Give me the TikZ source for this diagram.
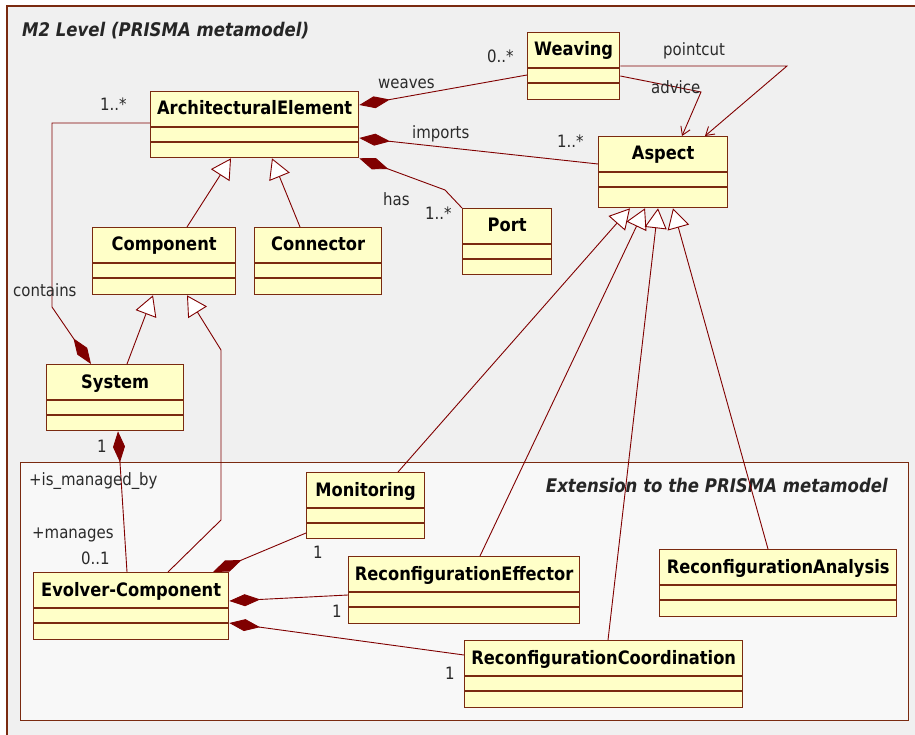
\documentclass[tikz,border=0pt]{standalone}
\usepackage{fontspec}
\setmainfont[FakeStretch=0.88]{DejaVu Sans}
\usetikzlibrary{arrows.meta}

\definecolor{umlred}{HTML}{800000}
\definecolor{boxedge}{HTML}{7A2A10}
\definecolor{boxfill}{HTML}{FFFFC8}
\definecolor{outerbg}{HTML}{F0F0F0}
\definecolor{innerbg}{HTML}{F8F8F8}
\definecolor{lbltext}{HTML}{2A2A2A}

\tikzset{
  classbox/.style={rectangle, draw=boxedge, fill=boxfill, line width=1.3pt, inner sep=0pt},
  classrule/.style={draw=boxedge, line width=1.3pt},
  classname/.style={font=\fontsize{18.5pt}{22pt}\selectfont\bfseries, anchor=base, inner sep=0pt, text=black},
  lbl/.style={font=\fontsize{17pt}{20pt}\selectfont, anchor=base west, inner sep=0pt, text=lbltext},
  frametitle/.style={font=\fontsize{18.8pt}{22pt}\selectfont\bfseries\itshape, anchor=base west, inner sep=0pt, text=black!85},
  assoc/.style={draw=umlred, line width=0.9pt},
  compo/.style={assoc, -{Diamond[length=31pt,width=12pt,fill=umlred]}},
  gen/.style={assoc, -{Triangle[length=20pt,width=22pt,fill=white]}},
  nav/.style={assoc, -{Straight Barb[length=8pt,width=10pt]}},
}

% UML class: name, left x, top y, width, height, title
\newcommand{\umlclass}[6]{%
  \node[classbox, minimum width=#4pt, minimum height=#5pt, anchor=north west] (#1) at (#2,#3) {};
  \node[classname] (#1-name) at ([yshift=-24pt]#1.north) {#6};
  \draw[classrule] ([yshift=-36pt]#1.north west) -- ([yshift=-36pt]#1.north east);
  \draw[classrule] ([yshift=-51pt]#1.north west) -- ([yshift=-51pt]#1.north east);
}

\begin{document}
\begin{tikzpicture}[x=1pt,y=-1pt]
\useasboundingbox (0,0) rectangle (915,735);
\fill[white] (0,0) rectangle (915,735);

% M2 package frame
\fill[outerbg] (7,6) rectangle (915,735);
\draw[boxedge, line width=1.2pt] (7,735) -- (7,6) -- (915,6);
\node[frametitle] (m2title) at (22,37) {M2 Level (PRISMA metamodel)};

% extension package frame
\node[draw=boxedge, fill=innerbg, line width=1.2pt, minimum width=888pt, minimum height=258pt,
      anchor=north west, inner sep=0pt] (extpkg) at (20,462) {};
\node[frametitle, anchor=base east] (exttitle) at (888,492) {Extension to the PRISMA metamodel};

% classes
\umlclass{ae}{150}{91}{208}{66}{ArchitecturalElement}
\umlclass{weaving}{527}{32}{92}{67}{Weaving}
\umlclass{aspect}{598}{136}{129}{71}{Aspect}
\umlclass{port}{462}{208}{89}{66}{Port}
\umlclass{component}{92}{227}{143}{67}{Component}
\umlclass{connector}{254}{227}{127}{67}{Connector}
\umlclass{system}{46}{364}{137}{66}{System}
\umlclass{monitoring}{306}{472}{118}{66}{Monitoring}
\umlclass{evolver}{33}{572}{195}{67}{Evolver-Component}
\umlclass{effector}{348}{556}{231}{67}{ReconfigurationEffector}
\umlclass{analysis}{659}{549}{237}{67}{ReconfigurationAnalysis}
\umlclass{coord}{464}{640}{278}{67}{ReconfigurationCoordination}

% weaves
\draw[compo] ([yshift=-43pt]weaving.north west) -- ([yshift=-14pt]ae.north east);
\node[lbl] (weaveslbl) at (378,89) {weaves};
\node[lbl] (weavesmult) at (487,63) {0..*};

% imports
\draw[compo] ([yshift=-28pt]aspect.north west) -- ([yshift=-47pt]ae.north east);
\node[lbl] (importslbl) at (412,139) {imports};
\node[lbl] (importsmult) at (557,148) {1..*};

% has
\coordinate (hasbend) at (445,190);
\draw[compo] (port.north west) -- (hasbend) -- (ae.south east);
\node[lbl] (haslbl) at (383,206) {has};
\node[lbl] (hasmult) at (425,220) {1..*};

% pointcut
\coordinate (pcbend) at (787,66);
\draw[nav] ([yshift=-34pt]weaving.north east) -- (pcbend) -- ([xshift=107pt]aspect.north west);
\node[lbl] (pclbl) at (663,56) {pointcut};

% advice
\coordinate (advbend) at (701,92);
\draw[nav] ([yshift=-44pt]weaving.north east) -- (advbend) -- ([xshift=84pt]aspect.north west);
\node[lbl] (advlbl) at (651,94) {advice};

% specialisations of ArchitecturalElement and Component
\draw[gen] ([xshift=95pt]component.north west) -- ([xshift=81pt]ae.south west);
\draw[gen] ([xshift=46pt]connector.north west) -- ([xshift=122pt]ae.south west);
\draw[gen] ([xshift=81pt]system.north west) -- ([xshift=61pt]component.south west);
\coordinate (evgen1) at (221,520);
\coordinate (evgen2) at (221,350);
\draw[gen] ([xshift=135pt]evolver.north west) -- (evgen1) -- (evgen2) -- ([xshift=95pt]component.south west);

% contains
\coordinate (cont1) at (52,123);
\coordinate (cont2) at (52,307);
\draw[compo] ([yshift=-32pt]ae.north west) -- (cont1) -- (cont2) -- ([xshift=45pt]system.north west);
\node[lbl] (contmult) at (100,111) {1..*};
\node[lbl] (contlbl) at (13,296) {contains};

% manages
\draw[compo] ([xshift=94pt]evolver.north west) -- ([xshift=72pt]system.south west);
\node[lbl] (sysmult) at (97,452) {1};
\node[lbl] (managedby) at (29,485) {+is\_managed\_by};
\node[lbl] (manages) at (32,538) {+manages};
\node[lbl] (evmult) at (81,564) {0..1};

% parts of Evolver-Component
\draw[compo] ([yshift=-61pt]monitoring.north west) -- ([xshift=180pt]evolver.north west);
\node[lbl] (monmult) at (313,558) {1};
\draw[compo] ([yshift=-39pt]effector.north west) -- ([yshift=-29pt]evolver.north east);
\node[lbl] (effmult) at (332,617) {1};
\draw[compo] ([yshift=-15pt]coord.north west) -- ([yshift=-51pt]evolver.north east);
\node[lbl] (coordmult) at (445,679) {1};

% specialisations of Aspect
\draw[gen] ([xshift=92pt]monitoring.north west) -- ([xshift=32pt]aspect.south west);
\draw[gen] ([xshift=132pt]effector.north west) -- ([xshift=47pt]aspect.south west);
\draw[gen] ([xshift=144pt]coord.north west) -- ([xshift=60pt]aspect.south west);
\draw[gen] ([xshift=109pt]analysis.north west) -- ([xshift=75pt]aspect.south west);
\end{tikzpicture}
\end{document}
